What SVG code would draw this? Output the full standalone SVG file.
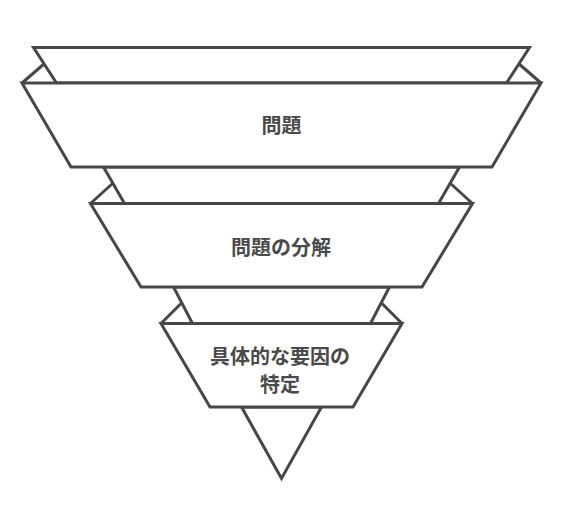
<svg xmlns="http://www.w3.org/2000/svg" width="565" height="516" viewBox="0 0 565 516">
<style>
.s{fill:#ffffff;stroke:#474747;stroke-width:3;stroke-linejoin:miter}
.e{fill:none;stroke:#474747;stroke-width:3}
.t{font-family:"Noto Sans CJK JP","Noto Sans",sans-serif;font-size:20px;font-weight:bold;fill:#4a4a4a;text-anchor:middle}
</style>
<rect width="565" height="516" fill="#ffffff"/>
<g id="tip">
<polygon class="s" points="241.5,407 281.5,478.5 321.5,407"/>
</g>
<g id="level3">
<polygon class="s" points="173.5,287 389.5,287 370.5,323.5 192.5,323.5"/>
<polyline class="e" points="161,323.5 181,303.5"/>
<polyline class="e" points="402,323.5 382,303.5"/>
<polygon class="s" points="161,323.5 402,323.5 353,407 210,407"/>
<text class="t" x="280" y="363.5">具体的な要因の</text>
<text class="t" x="280" y="392">特定</text>
</g>
<g id="level2">
<polygon class="s" points="103.5,167 459.5,167 438.5,203.5 124.5,203.5"/>
<polyline class="e" points="90.5,203.5 112.5,183.5"/>
<polyline class="e" points="472.5,203.5 450.5,183.5"/>
<polygon class="s" points="90.5,203.5 472.5,203.5 422,287 141,287"/>
<text class="t" x="281" y="255">問題の分解</text>
</g>
<g id="level1">
<polygon class="s" points="33.5,47.5 529.5,47.5 506.5,83 56.5,83"/>
<polyline class="e" points="22,83 44.5,63.5"/>
<polyline class="e" points="541,83 518.5,63.5"/>
<polygon class="s" points="22,83 541,83 492,167 71,167"/>
<text class="t" x="281.5" y="133">問題</text>
</g>
</svg>
